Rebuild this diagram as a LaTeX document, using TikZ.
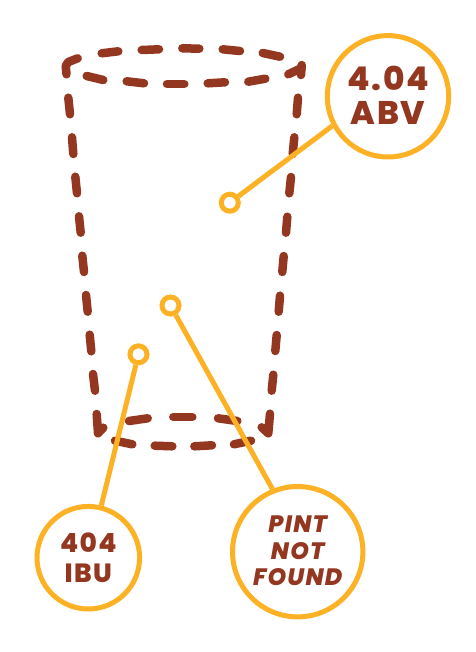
\documentclass[tikz,border=0pt]{standalone}
\usepackage{fontspec}
\setmainfont{Poppins}[LetterSpace=5, BoldFont={Poppins ExtraBold}, BoldItalicFont={Poppins ExtraBold Italic}]
\definecolor{glassbrown}{HTML}{933720}
\definecolor{calloutgold}{HTML}{FDB124}
\tikzset{
  glassline/.style={glassbrown, line width=0.17cm, line cap=round, line join=round},
  calloutline/.style={calloutgold, line width=0.1cm},
  badge/.style={circle, draw=calloutgold, line width=0.1cm, fill=white, inner sep=0pt,
    align=center, text=glassbrown},
  dot/.style={circle, draw=calloutgold, line width=0.1cm, inner sep=0pt, minimum size=0.34cm}
}
\begin{document}
\begin{tikzpicture}[x=0.02cm, y=-0.02cm]
\useasboundingbox (0,0) rectangle (476,652);

% Draw the rim of the glass
\foreach \xa/\ya/\xb/\yb in {101.7/53.3/118.3/51.3, 141.7/50/159/49.3, 182.3/48.3/199.3/48.7,
    222.7/49.3/240/51, 262.7/53/280/56.7, 86.7/76/103.3/80, 126.7/81.3/144/83.3,
    167/84/184.3/84, 207.7/83.3/225/82.3, 248.3/81.7/265.3/78.7}
  \draw[glassline] (\xa,\ya) -- (\xb,\yb);
\draw[glassline] (77.7,58.3) -- (68.3,62) -- (65.7,66) -- (66.5,74.3);
\draw[glassline] (288.3,74.3) -- (301.7,68);
\draw[glassline] (301.7,65) -- (301,75);

% Draw the left and right sides
\foreach \xa/\ya/\xb/\yb in {68.3/97.7/70/114.3, 72/137.3/73.3/154, 75.3/176.7/77/193.3,
    79/216.3/80.7/232.7, 82.3/255.7/84/272, 86/295/87.7/311.7, 89.7/334.7/91.3/351.3,
    93/374/95/390.7, 298/97.7/296.7/114.3, 294.3/137.3/292.7/154, 291/177/289.3/193.3,
    287.3/216.7/286/232.7, 283.7/256/282.3/272, 280/295.7/278.7/311.7,
    276.7/335/275.3/351, 273.3/374.7/271.7/390.7}
  \draw[glassline] (\xa,\ya) -- (\xb,\yb);

% Draw the base of the glass
\foreach \xa/\ya/\xb/\yb in {129/421/147.7/418.3, 173.3/417/192.3/417, 218/418.3/237.3/421,
    115/440.7/132.3/444.3, 154.7/445.7/172.3/446.3, 194.3/446.3/212/445.3, 234/444.3/251/440.7}
  \draw[glassline] (\xa,\ya) -- (\xb,\yb);
\draw[glassline] (96.7,414) -- (98,433.3) -- (103.3,427.7);
\draw[glassline] (270,413.7) -- (268.3,433.3) -- (261.7,427.3);

% Badges and their dots
\node[badge, minimum size=2.428cm, font=\fontsize{18.6}{19}\selectfont\bfseries] (abv) at (388,96.3) {\raisebox{1pt}{4.04}\\\raisebox{1pt}{ABV}};
\node[badge, minimum size=2.052cm, font=\fontsize{15}{16.6}\selectfont\bfseries] (ibu) at (88.3,557.7) {404\\IBU};
\node[badge, minimum size=2.608cm, font=\fontsize{13.5}{15.2}\selectfont\bfseries\itshape] (pint) at (297.7,551.7) {\raisebox{1pt}{PINT}\\\raisebox{1pt}{NOT}\\\raisebox{1pt}{FOUND}};
\node[dot] (abvdot) at (229.8,202.7) {};
\node[dot] (pintdot) at (170.5,305.5) {};
\node[dot] (ibudot) at (138.5,354.3) {};

% Connect each dot to its badge
\draw[calloutline] (abvdot.37) -- (abv.208);
\draw[calloutline] (pintdot.299) -- (pint.112);
\draw[calloutline] (ibudot.256) -- (ibu.76);

\end{tikzpicture}
\end{document}
